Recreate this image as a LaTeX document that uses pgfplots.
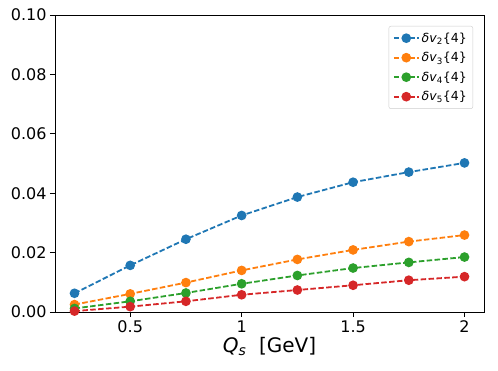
\documentclass[border=0pt]{standalone}
\usepackage{fontspec}
\setmainfont{DejaVu Sans}
\usepackage{pgfplots}
\pgfplotsset{compat=1.18}

\definecolor{tabblue}{HTML}{1F77B4}
\definecolor{taborange}{HTML}{FF7F0E}
\definecolor{tabgreen}{HTML}{2CA02C}
\definecolor{tabred}{HTML}{D62728}

\begin{document}
\begin{tikzpicture}
\begin{axis}[
    scale only axis,
    width=429pt, height=297pt,
    xmin=0.1625, xmax=2.0875,
    ymin=0, ymax=0.1,
    xtick={0.5,1,1.5,2},
    ytick={0,0.02,0.04,0.06,0.08,0.1},
    xtick pos=left, ytick pos=left,
    tick align=outside,
    major tick length=5pt,
    tick style={black, line width=0.8pt},
    axis line style={line width=0.8pt},
    /pgf/number format/assume math mode=true,
    ticklabel style={font=\fontsize{16}{19}\selectfont},
    yticklabel style={/pgf/number format/.cd, fixed, fixed zerofill, precision=2},
    scaled y ticks=false,
    xlabel={\textit{Q}\textsubscript{\textit{s}}\ \ [GeV]},
    xlabel style={font=\fontsize{20}{24}\selectfont, yshift=2pt},
    legend cell align=left,
    legend style={at={(rel axis cs:1,1)}, anchor=north east, xshift=-11pt, yshift=-11pt,
        draw=black!20, rounded corners=2pt, font=\fontsize{12.5}{15}\selectfont,
        row sep=4.5pt, inner xsep=4pt, inner ysep=4.5pt},
    legend image code/.code={
        \draw[mark repeat=2, mark phase=2, #1] plot coordinates {(0pt,0pt) (12.5pt,0pt) (25pt,0pt)};
    },
    every axis plot/.append style={line width=1.8pt, dash pattern=on 5.5pt off 2.4pt,
        mark=*, mark size=3.9pt, mark options={solid}},
]
% dv2{4}
\addplot[color=tabblue] coordinates {
    (0.25,0.0063) (0.5,0.0157) (0.75,0.0245) (1.0,0.0325)
    (1.25,0.0387) (1.5,0.0437) (1.75,0.0471) (2.0,0.0502)};
\addlegendentry{\textit{δv}\textsubscript{2}\{4\}}
% dv3{4}
\addplot[color=taborange] coordinates {
    (0.25,0.0025) (0.5,0.0061) (0.75,0.0099) (1.0,0.0140)
    (1.25,0.0177) (1.5,0.0209) (1.75,0.0237) (2.0,0.0259)};
\addlegendentry{\textit{δv}\textsubscript{3}\{4\}}
% dv4{4}
\addplot[color=tabgreen] coordinates {
    (0.25,0.0012) (0.5,0.0036) (0.75,0.0064) (1.0,0.0095)
    (1.25,0.0123) (1.5,0.0148) (1.75,0.0167) (2.0,0.0185)};
\addlegendentry{\textit{δv}\textsubscript{4}\{4\}}
% dv5{4}
\addplot[color=tabred] coordinates {
    (0.25,0.0003) (0.5,0.0018) (0.75,0.0036) (1.0,0.0058)
    (1.25,0.0074) (1.5,0.0090) (1.75,0.0107) (2.0,0.0119)};
\addlegendentry{\textit{δv}\textsubscript{5}\{4\}}
\end{axis}
\path (current axis.south west) +(-55pt,-59pt) (current axis.north east) +(14pt,15pt);
\end{tikzpicture}
\end{document}
